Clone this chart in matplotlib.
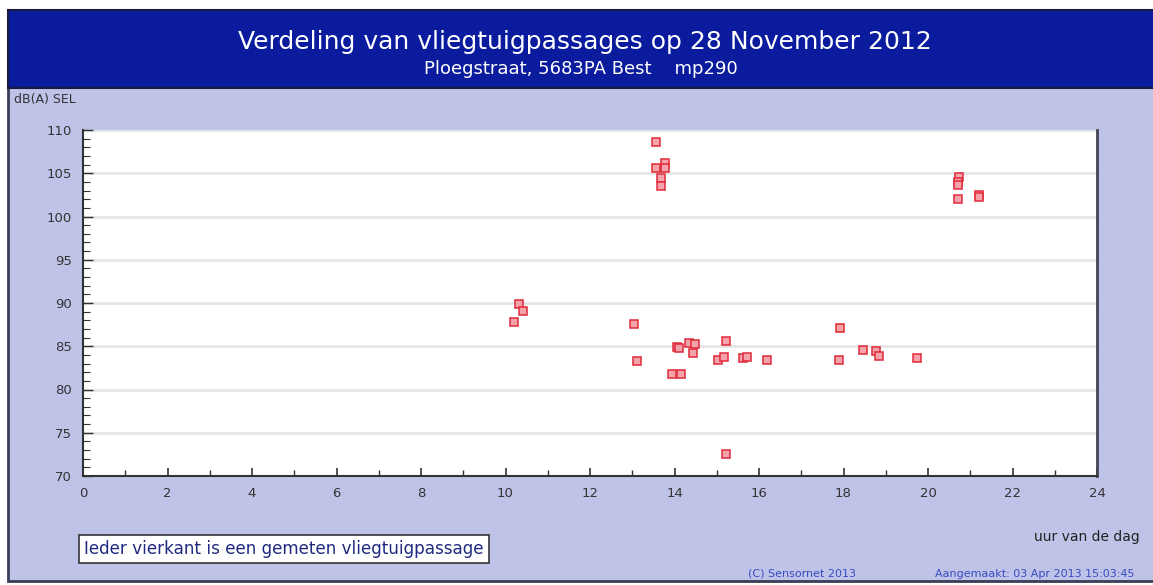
import matplotlib
matplotlib.use("Agg")
import matplotlib.pyplot as plt
from matplotlib.patches import Rectangle
from matplotlib.ticker import MultipleLocator

# Data: hour of day and measured SEL level dB(A)
hours = [10.32, 10.42, 10.21,
         13.04, 13.12,
         13.56, 13.56, 13.77, 13.77, 13.69, 13.69,
         14.07, 14.10, 14.35, 14.49, 14.43, 13.93, 14.15,
         15.22, 15.04, 15.18, 15.63, 15.71, 16.20, 15.22,
         17.92, 17.89, 18.47, 18.78, 18.85, 19.73,
         20.74, 20.72, 20.72, 20.72, 21.21, 21.21]
levels = [89.9, 89.1, 87.8,
          87.6, 83.3,
          108.6, 105.6, 106.2, 105.6, 104.5, 103.5,
          84.95, 84.8, 85.4, 85.25, 84.25, 81.8, 81.8,
          85.6, 83.4, 83.7, 83.6, 83.7, 83.4, 72.55,
          87.1, 83.4, 84.6, 84.5, 83.9, 83.6,
          104.6, 104.0, 103.6, 102.0, 102.5, 102.2]

title = "Verdeling van vliegtuigpassages op 28 November 2012"
subtitle = "Ploegstraat, 5683PA Best    mp290"
ylabel = "dB(A) SEL"
xlabel = "uur van de dag"
legend_text = "Ieder vierkant is een gemeten vliegtuigpassage"
copyright_text = "(C) Sensornet 2013"
created_text = "Aangemaakt: 03 Apr 2013 15:03:45"

W, H = 1153, 585
fig = plt.figure(figsize=(W / 100, H / 100), dpi=100)
fig.patch.set_facecolor("white")

def fx(px):
    return px / W

def fy(py):
    return 1 - py / H

lav = "#bfc3e7"
# outer frame
fig.patches.append(Rectangle((fx(8), fy(581)), fx(1153 - 8) + 0.01, fy(10) - fy(581),
                             transform=fig.transFigure, facecolor=lav,
                             edgecolor="#3a3d55", linewidth=2.0, zorder=-2))
# header
fig.patches.append(Rectangle((fx(8), fy(88)), 1.0, fy(10) - fy(88),
                             transform=fig.transFigure, facecolor="#0a1b9e",
                             edgecolor="#1a1a40", linewidth=1.5, zorder=-1))

fig.text(fx(585), fy(42), title, color="white", fontsize=18,
         ha="center", va="center", family="DejaVu Sans")
fig.text(fx(581), fy(69), subtitle, color="white", fontsize=13,
         ha="center", va="center", family="DejaVu Sans")
fig.text(fx(14), fy(99), ylabel, color="#333333", fontsize=9,
         ha="left", va="center")

ax = fig.add_axes([fx(83), fy(476), fx(1097) - fx(83), fy(130) - fy(476)])
ax.set_zorder(2)
ax.set_facecolor("white")
ax.set_xlim(0, 24)
ax.set_ylim(70, 110)
ax.xaxis.set_major_locator(MultipleLocator(2))
ax.xaxis.set_minor_locator(MultipleLocator(1))
ax.yaxis.set_major_locator(MultipleLocator(5))
ax.yaxis.set_minor_locator(MultipleLocator(1))
ax.tick_params(axis="x", which="major", direction="in", length=6, width=1.2,
               color="#333333", labelsize=9.5, labelcolor="#333333", pad=8)
ax.tick_params(axis="x", which="minor", direction="in", length=4, width=1,
               color="#333333")
ax.tick_params(axis="y", which="major", direction="in", length=7, width=1,
               color="#333333", labelsize=9.5, labelcolor="#333333", pad=8)
ax.tick_params(axis="y", which="minor", direction="in", length=5, width=0.8,
               color="#333333")
ax.set_axisbelow(True)
ax.grid(axis="y", which="major", color="#e6e6e6", linewidth=2.0)
for s in ["left", "bottom"]:
    ax.spines[s].set_color("#333333")
    ax.spines[s].set_linewidth(1.5)
ax.spines["top"].set_visible(False)
ax.spines["right"].set_color("#444455")
ax.spines["right"].set_linewidth(2.0)

ax.plot(hours, levels, linestyle="none", marker="s", markersize=5.2,
        markerfacecolor="#f4a3ab", markeredgecolor="#e02a3a",
        markeredgewidth=1.1, zorder=3, clip_on=False)

fig.text(fx(1140), fy(537), xlabel, color="#222222", fontsize=10,
         ha="right", va="center")

fig.text(fx(84), fy(549), legend_text, color="#1f2a80", fontsize=12.1,
         ha="left", va="center",
         bbox=dict(boxstyle="square,pad=0.3", facecolor="white",
                   edgecolor="#333333", linewidth=1.2))

fig.text(fx(802), fy(574), copyright_text, color="#3a4cc0", fontsize=8,
         ha="center", va="center")
fig.text(fx(1035), fy(574), created_text, color="#3a4cc0", fontsize=8,
         ha="center", va="center")

fig.savefig("out.png", dpi=100, facecolor=fig.get_facecolor())
